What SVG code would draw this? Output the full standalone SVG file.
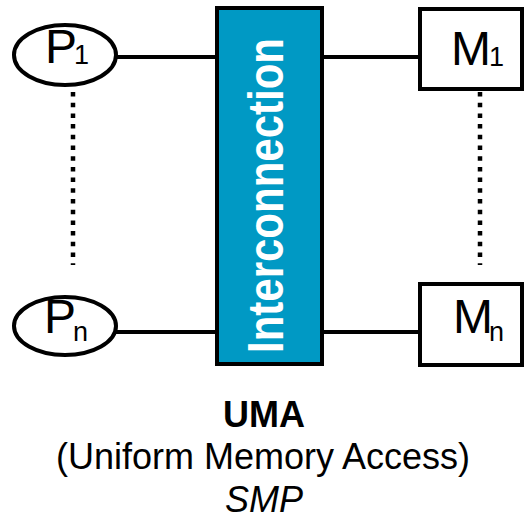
<svg xmlns="http://www.w3.org/2000/svg" width="525" height="517" viewBox="0 0 525 517">
  <style>
    .shape { fill: #ffffff; stroke: #000000; stroke-width: 4; }
    .bus { fill: #0099c4; stroke: #000000; stroke-width: 4; }
    .wire { stroke: #000000; stroke-width: 4; fill: none; }
    .dots { stroke: #000000; stroke-width: 4.5; stroke-dasharray: 4.5 6.2; fill: none; }
    .lbl { font-family: "Liberation Sans", Arial, sans-serif; font-size: 48px; fill: #000000; }
    .sub { font-family: "Liberation Sans", Arial, sans-serif; font-size: 27px; fill: #000000; }
    .bus-lbl { font-family: "Liberation Sans", Arial, sans-serif; font-size: 50px; font-weight: bold; fill: #ffffff; }
    .cap { font-family: "Liberation Sans", Arial, sans-serif; font-size: 36px; fill: #000000; text-anchor: middle; }
  </style>

  <g id="connectors">
    <line class="wire" x1="116" y1="57" x2="217" y2="57"/>
    <line class="wire" x1="116" y1="332" x2="217" y2="332"/>
    <line class="wire" x1="322" y1="57" x2="420" y2="57"/>
    <line class="wire" x1="322" y1="332" x2="420" y2="332"/>
    <line class="dots" x1="73" y1="92" x2="73" y2="265"/>
    <line class="dots" x1="480" y1="92" x2="480" y2="265"/>
  </g>

  <g id="interconnection">
    <rect class="bus" x="217" y="8" width="105" height="356"/>
    <text class="bus-lbl" transform="translate(283,353) rotate(-90)" textLength="315" lengthAdjust="spacingAndGlyphs">Interconnection</text>
  </g>

  <g id="p1">
    <ellipse class="shape" cx="65" cy="55" rx="51" ry="30"/>
    <text class="lbl" x="45" y="63">P</text>
    <text class="sub" x="74" y="64">1</text>
  </g>

  <g id="pn">
    <ellipse class="shape" cx="65" cy="326" rx="51" ry="29"/>
    <text class="lbl" x="44" y="333">P</text>
    <text class="sub" x="73" y="341">n</text>
  </g>

  <g id="m1">
    <rect class="shape" x="420" y="9" width="102" height="80"/>
    <text class="lbl" x="451" y="65">M</text>
    <text class="sub" x="489" y="66">1</text>
  </g>

  <g id="mn">
    <rect class="shape" x="420" y="284" width="102" height="81"/>
    <text class="lbl" x="453" y="333">M</text>
    <text class="sub" x="489" y="341">n</text>
  </g>

  <g id="caption">
    <text class="cap" x="264" y="427" font-weight="bold">UMA</text>
    <text class="cap" x="263" y="469">(Uniform Memory Access)</text>
    <text class="cap" x="264" y="512" font-style="italic">SMP</text>
  </g>
</svg>
